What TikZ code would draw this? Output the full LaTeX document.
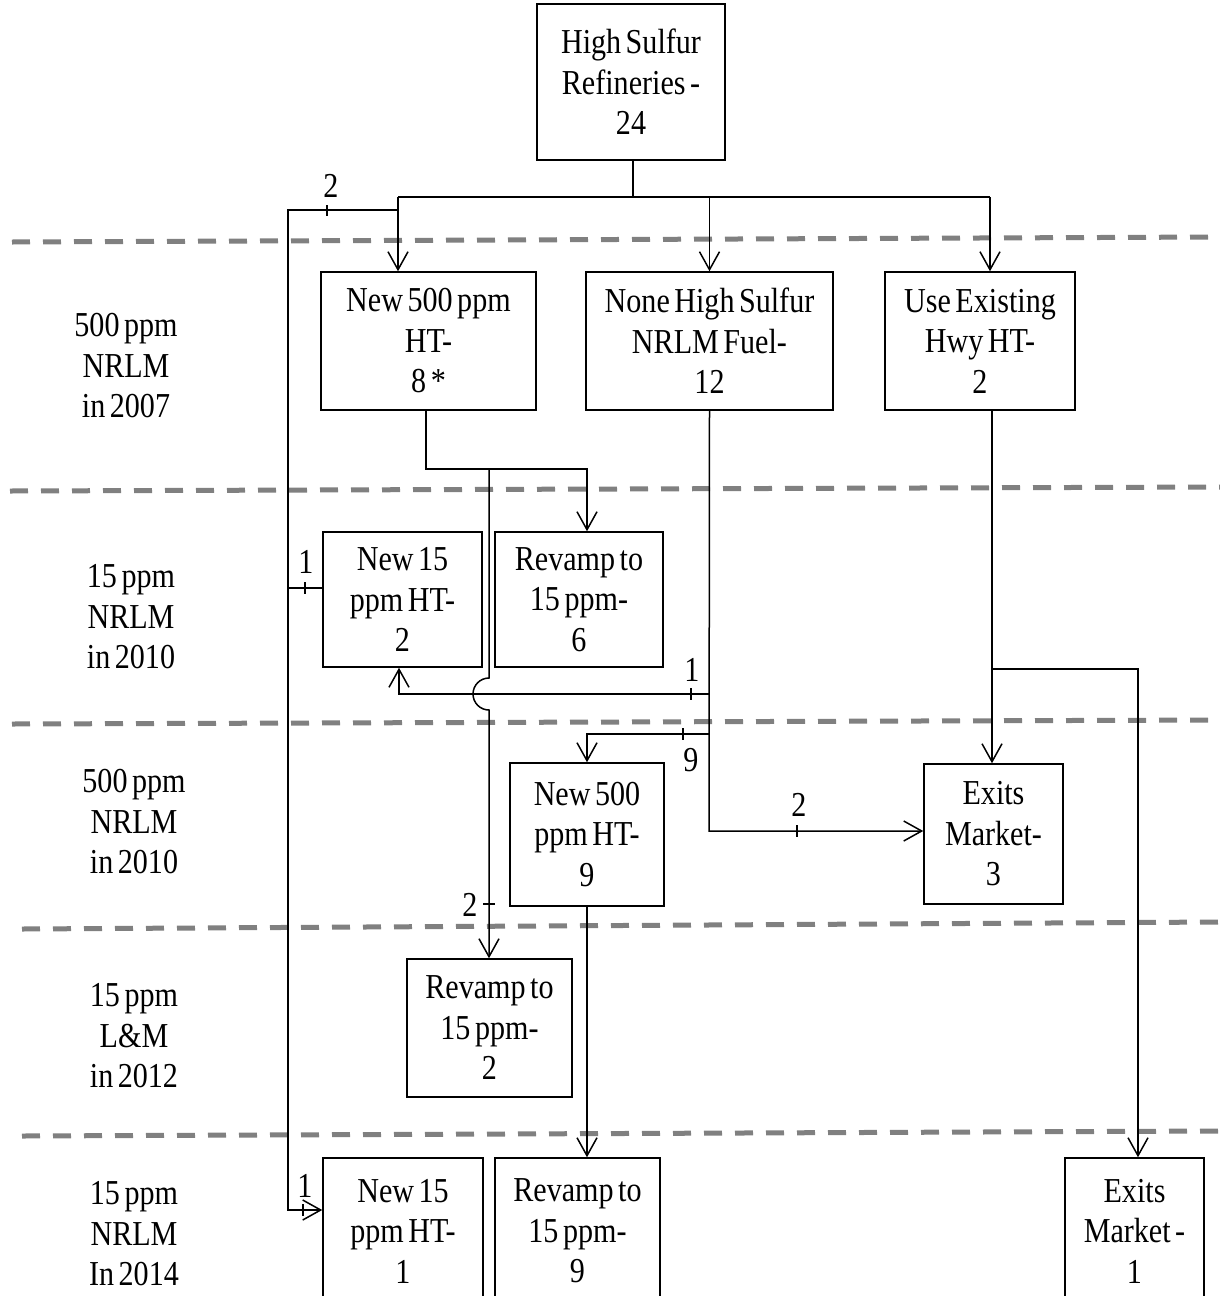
\documentclass[tikz,border=0pt]{standalone}
\usepackage{fontspec}
\setmainfont[FakeStretch=0.86,WordSpace=0.6]{Liberation Serif}
\usetikzlibrary{arrows.meta}
\begin{document}
\begin{tikzpicture}[x=1pt,y=-1pt,
  txt/.style={align=center,inner sep=0pt,font=\fontsize{35}{40.5}\selectfont},
  box/.style={txt,draw,line width=1.5pt},
  num/.style={inner sep=0pt,font=\fontsize{35}{40}\selectfont},
  ln/.style={line width=1.5pt},
  arr/.style={ln,-{Straight Barb[length=18pt,width=20pt,line width=1.5pt]}},
  sep/.style={line width=5pt,color=gray,dash pattern=on 18pt off 13pt}
]
\useasboundingbox (0,0) rectangle (1220,1296);
\clip (0,0) rectangle (1220,1296);

% separators
\draw[sep] (12,242) -- (1220,237);
\draw[sep] (10,491) -- (1220,487);
\draw[sep] (12,724) -- (1220,720);
\draw[sep] (22,929) -- (1220,922);
\draw[sep] (22,1136) -- (1220,1131);

% left labels
\node[txt] (l1) at (126,366) {500 ppm\\NRLM\\in 2007};
\node[txt] (l2) at (131,617) {15 ppm\\NRLM\\in 2010};
\node[txt] (l3) at (134,822) {500 ppm\\NRLM\\in 2010};
\node[txt] (l4) at (134,1036) {15 ppm\\L\&M\\in 2012};
\node[txt] (l5) at (134,1234) {15 ppm\\NRLM\\In 2014};

% boxes
\node[box,minimum width=188pt,minimum height=156pt] (hs) at (631,82) {High Sulfur\\Refineries -\\24};
\node[box,minimum width=215pt,minimum height=138pt] (n500) at (428.5,341) {New 500 ppm\\HT-\\8 *};
\node[box,minimum width=247pt,minimum height=138pt] (none) at (709.5,341) {None High Sulfur\\NRLM Fuel-\\12};
\node[box,minimum width=190pt,minimum height=138pt] (hwy) at (980,341) {Use Existing\\Hwy HT-\\2};
\node[box,minimum width=159pt,minimum height=135pt] (n15a) at (402.5,599.5) {New 15\\ppm HT-\\2};
\node[box,minimum width=168pt,minimum height=135pt] (rev6) at (579,599.5) {Revamp to\\15 ppm-\\6};
\node[box,minimum width=154pt,minimum height=143pt] (n500b) at (587,834.5) {New 500\\ppm HT-\\9};
\node[box,minimum width=139pt,minimum height=140pt] (exit3) at (993.5,834) {Exits\\Market-\\3};
\node[box,minimum width=165pt,minimum height=138pt] (rev2) at (489.5,1028) {Revamp to\\15 ppm-\\2};
\node[box,minimum width=160pt,minimum height=146pt] (n15b) at (403,1231) {New 15\\ppm HT-\\1};
\node[box,minimum width=165pt,minimum height=146pt] (rev9) at (577.5,1231) {Revamp to\\15 ppm-\\9};
\node[box,minimum width=139pt,minimum height=146pt] (exit1) at (1134.5,1231) {Exits\\Market -\\1};

% top distribution
\coordinate (j1) at (633,197);
\coordinate (jl) at (398,197);
\coordinate (jr) at (990,197);
\draw[ln] (j1 |- hs.south) -- (j1);
\draw[ln] (jl) -- (jr);
\draw[arr] (jl) -- (jl |- n500.north);
\draw[arr] (none.north |- j1) -- (none.north);
\draw[arr] (jr) -- (jr |- hwy.north);

% left feed
\coordinate (f0) at (398,210);
\coordinate (f1) at (288,210);
\coordinate (f2) at (288,1210);
\coordinate (f3) at (288,588);
\draw[arr] (f0) -- (f1) -- (f2) -- (f2 -| n15b.west);
\draw[ln] (f3) -- (f3 -| n15a.west);
\coordinate (t1) at (327,210);
\coordinate (t2) at (305,588);
\coordinate (t3) at (303,1210);
\draw[ln] (t1) ++(0,-5) -- ++(0,11);
\draw[ln] (t2) ++(0,-6) -- ++(0,12);
\draw[ln] (t3) ++(0,-6) -- ++(0,12);
\node[num] (k1) at (331,186) {2};
\node[num] (k2) at (306,562) {1};
\node[num] (k3) at (305,1186) {1};

% from New 500 ppm HT-8
\coordinate (m1) at (426,469);
\coordinate (m2) at (587,469);
\coordinate (m3) at (489,469);
\coordinate (h1) at (489,678);
\draw[arr] (m1 |- n500.south) -- (m1) -- (m2) -- (m2 |- rev6.north);
\draw[arr] (m3) -- (h1) arc[start angle=90,end angle=270,radius=16pt] -- (m3 |- rev2.north);
\coordinate (t4) at (489,904);
\draw[ln] (t4) ++(-6,0) -- ++(12,0);
\node[num] (k4) at (470,905) {2};

% from None High Sulfur
\coordinate (c1) at (709,694);
\coordinate (c1l) at (399,694);
\coordinate (c2) at (709,734);
\coordinate (c2l) at (587,734);
\coordinate (c3) at (709,831);
\draw[arr] (none.south) -- (c3) -- (c3 -| exit3.west);
\draw[arr] (c1) -- (c1l) -- (c1l |- n15a.south);
\draw[arr] (c2) -- (c2l) -- (c2l |- n500b.north);
\coordinate (t5) at (691,694);
\coordinate (t6) at (683,734);
\coordinate (t7) at (797,831);
\draw[ln] (t5) ++(0,-6) -- ++(0,12);
\draw[ln] (t6) ++(0,-6) -- ++(0,12);
\draw[ln] (t7) ++(0,-6) -- ++(0,12);
\node[num] (k5) at (692,670) {1};
\node[num] (k6) at (691,760) {9};
\node[num] (k7) at (799,805) {2};

% from Use Existing Hwy HT
\coordinate (e1) at (992,669);
\coordinate (e2) at (1138,669);
\draw[arr] (e1 |- hwy.south) -- (e1 |- exit3.north);
\draw[arr] (e1) -- (e2) -- (e2 |- exit1.north);

% from New 500 ppm HT-9
\draw[arr] (n500b.south) -- (n500b.south |- rev9.north);
\end{tikzpicture}
\end{document}
